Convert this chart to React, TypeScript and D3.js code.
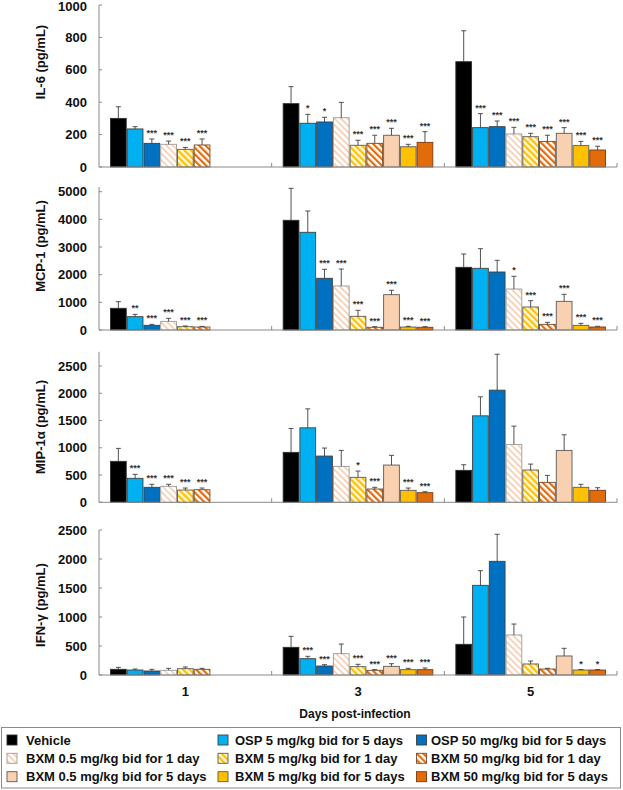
import React from "react";
import * as d3 from "d3";

// ---------- DATA ----------
const days = ["1", "3", "5"];
const seriesNames = [
  "Vehicle",
  "OSP 5 mg/kg bid for 5 days",
  "OSP 50 mg/kg bid for 5 days",
  "BXM 0.5 mg/kg bid for 1 day",
  "BXM 5 mg/kg bid for 1 day",
  "BXM 50 mg/kg bid for 1 day",
  "BXM 0.5 mg/kg bid for 5 days",
  "BXM 5 mg/kg bid for 5 days",
  "BXM 50 mg/kg bid for 5 days",
];

// values per day (rows: day 1, 3, 5), columns: series; null = not measured
const il6Mean = [
  [300, 235, 146, 140, 109, 136, null, null, null],
  [391, 270, 278, 304, 134, 146, 196, 125, 152],
  [650, 243, 249, 204, 187, 158, 208, 132, 105],
];
const il6Err = [
  [72, 14, 27, 20, 12, 37, null, null, null],
  [105, 55, 29, 95, 31, 50, 43, 15, 66],
  [191, 86, 35, 41, 21, 38, 35, 26, 23],
];
const il6Sig = [
  ["", "", "***", "***", "***", "***", "", "", ""],
  ["", "*", "*", "", "***", "***", "***", "***", "***"],
  ["", "***", "***", "***", "***", "***", "***", "***", "***"],
];

const mcp1Mean = [
  [784, 482, 169, 313, 120, 108, null, null, null],
  [3966, 3532, 1869, 1591, 495, 98, 1277, 108, 98],
  [2266, 2230, 2097, 1482, 832, 205, 1036, 169, 108],
];
const mcp1Err = [
  [240, 84, 36, 109, 25, 22, null, null, null],
  [1156, 770, 325, 614, 217, 22, 158, 25, 22],
  [482, 710, 422, 458, 228, 72, 254, 72, 25],
];
const mcp1Sig = [
  ["", "**", "***", "***", "***", "***", "", "", ""],
  ["", "", "***", "***", "***", "***", "***", "***", "***"],
  ["", "", "", "*", "***", "***", "***", "***", "***"],
];

const mip1aMean = [
  [751, 440, 275, 293, 225, 231, null, null, null],
  [916, 1366, 848, 659, 458, 244, 683, 220, 176],
  [586, 1586, 2057, 1062, 592, 366, 952, 275, 220],
];
const mip1aErr = [
  [238, 73, 55, 37, 37, 31, null, null, null],
  [439, 348, 147, 293, 115, 31, 178, 42, 18],
  [103, 348, 659, 335, 109, 128, 286, 55, 48],
];
const mip1aSig = [
  ["", "***", "***", "***", "***", "***", "", "", ""],
  ["", "", "", "", "*", "***", "", "***", "***"],
  ["", "", "", "", "", "", "", "", ""],
];

const ifngMean = [
  [98, 86, 69, 81, 109, 98, null, null, null],
  [477, 281, 155, 368, 144, 81, 149, 92, 92],
  [529, 1546, 1960, 690, 190, 103, 328, 86, 86],
];
const ifngErr = [
  [34, 17, 29, 34, 29, 17, null, null, null],
  [190, 41, 23, 166, 40, 11, 46, 23, 29],
  [471, 253, 466, 189, 51, 12, 132, 8, 8],
];
const ifngSig = [
  ["", "", "", "", "", "", "", "", ""],
  ["", "***", "***", "", "***", "***", "***", "***", "***"],
  ["", "", "", "", "", "", "", "*", "*"],
];

const il6Ticks = [0, 200, 400, 600, 800, 1000];
const mcp1Ticks = [0, 1000, 2000, 3000, 4000, 5000];
const mip1aTicks = [0, 500, 1000, 1500, 2000, 2500];
const ifngTicks = [0, 500, 1000, 1500, 2000, 2500];

// ---------- STYLE / LAYOUT ----------
const FONT = "'Liberation Sans', Arial, Helvetica, sans-serif";
const fills = [
  "#000000",
  "#00B0F0",
  "#0070C0",
  "url(#hatchCream)",
  "url(#hatchYellow)",
  "url(#hatchOrange)",
  "#F9D0B0",
  "#FFC000",
  "#E36C0A",
];
const strokes = [
  "#303030",
  "#404040",
  "#404040",
  "#9a9a9a",
  "#5a5a5a",
  "#7a4a2a",
  "#5a5a5a",
  "#5a5a5a",
  "#7a3a10",
];

const X0 = 99;
const X1 = 617;

const panels = [
  { title: "IL-6 (pg/mL)", mean: il6Mean, err: il6Err, sig: il6Sig, ticks: il6Ticks, yBottom: 167, yTopTick: 5, axisTopVal: 1000, titleY: 62 },
  { title: "MCP-1 (pg/mL)", mean: mcp1Mean, err: mcp1Err, sig: mcp1Sig, ticks: mcp1Ticks, yBottom: 330, yTopTick: 191.7, axisTopVal: 5170, titleY: 246 },
  { title: "MIP-1\u03B1 (pg/mL)", mean: mip1aMean, err: mip1aErr, sig: mip1aSig, ticks: mip1aTicks, yBottom: 502.3, yTopTick: 366, axisTopVal: 2760, titleY: 427 },
  { title: "IFN-\u03B3 (pg/mL)", mean: ifngMean, err: ifngErr, sig: ifngSig, ticks: ifngTicks, yBottom: 675, yTopTick: 530, axisTopVal: 2500, titleY: 605 },
];

const xDay = d3.scaleBand<string>().domain(days).range([X0, X1]).padding(0);
const xSeries = d3
  .scaleBand<string>()
  .domain(seriesNames)
  .range([11.5, xDay.bandwidth() - 11.5])
  .paddingInner(0.06)
  .paddingOuter(0);

function Panel({ p }: { p: any }) {
  const maxTick = p.ticks[p.ticks.length - 1];
  const y = d3.scaleLinear().domain([0, maxTick]).range([p.yBottom, p.yTopTick]);
  const bw = xSeries.bandwidth();
  const axisColor = "#8a8a8a";
  return (
    <g>
      {/* y axis */}
      <line x1={X0} x2={X0} y1={y(p.axisTopVal)} y2={y(0)} stroke={axisColor} strokeWidth={1} />
      {p.ticks.map((t: number) => (
        <g key={t}>
          <line x1={X0} x2={X0 + 3} y1={y(t)} y2={y(t)} stroke={axisColor} strokeWidth={1} />
          <text x={87} y={Math.max(y(t), 6)} dy="0.35em" textAnchor="end" fontFamily={FONT} fontWeight="bold" fontSize={13} fill="#111">
            {t}
          </text>
        </g>
      ))}
      {/* bars */}
      {days.map((d, di) =>
        seriesNames.map((s, si) => {
          const v = p.mean[di][si];
          if (v == null) return null;
          const e = p.err[di][si];
          const x = (xDay(d) as number) + (xSeries(s) as number);
          const cx = x + bw / 2;
          const top = y(v);
          const etop = y(v + e);
          const sig = p.sig[di][si];
          return (
            <g key={d + s}>
              <rect x={x} y={top} width={bw} height={y(0) - top} fill={fills[si]} stroke={strokes[si]} strokeWidth={0.9} />
              <line x1={cx} x2={cx} y1={top} y2={etop} stroke="#404040" strokeWidth={0.9} />
              <line x1={cx - 2.5} x2={cx + 2.5} y1={etop} y2={etop} stroke="#404040" strokeWidth={0.9} />
              {sig && (
                <text x={cx} y={etop - 3} textAnchor="middle" fontFamily={FONT} fontWeight="bold" fontSize={9} fill="#333">
                  {sig}
                </text>
              )}
            </g>
          );
        })
      )}
      {/* x axis */}
      <line x1={X0} x2={X1} y1={y(0)} y2={y(0)} stroke={axisColor} strokeWidth={1} />
      {days.map((d) => {
        const xe = (xDay(d) as number) + xDay.bandwidth();
        return <line key={d} x1={xe} x2={xe} y1={y(0)} y2={y(0) - 4} stroke={axisColor} strokeWidth={1} />;
      })}
      {/* title */}
      <text
        transform={`translate(40,${p.titleY}) rotate(-90)`}
        textAnchor="middle"
        dy="0.35em"
        fontFamily={FONT}
        fontWeight="bold"
        fontSize={13}
        fill="#111"
      >
        {p.title}
      </text>
    </g>
  );
}

export default function App() {
  const legendCols = [7, 218, 416.5];
  const legendTextX = [26, 235, 431];
  const legendRows = [740, 758.3, 776.7];
  return (
    <svg width={623} height={790} style={{ position: "absolute", left: 0, top: 0, background: "#fff" }}>
      <defs>
        <pattern id="hatchCream" patternUnits="userSpaceOnUse" width={4.6} height={4.6} patternTransform="rotate(-45)">
          <rect width={4.6} height={4.6} fill="#ffffff" />
          <rect width={1.8} height={4.6} fill="#F8D2B6" />
        </pattern>
        <pattern id="hatchYellow" patternUnits="userSpaceOnUse" width={4.6} height={4.6} patternTransform="rotate(-45)">
          <rect width={4.6} height={4.6} fill="#FFF8DC" />
          <rect width={2.2} height={4.6} fill="#FFC000" />
        </pattern>
        <pattern id="hatchOrange" patternUnits="userSpaceOnUse" width={4.6} height={4.6} patternTransform="rotate(-45)">
          <rect width={4.6} height={4.6} fill="#ffffff" />
          <rect width={2.2} height={4.6} fill="#E36C0A" />
        </pattern>
      </defs>
      <rect width={623} height={790} fill="#fff" />
      {panels.map((p, i) => (
        <Panel key={i} p={p} />
      ))}
      {days.map((d) => (
        <text
          key={d}
          x={(xDay(d) as number) + xDay.bandwidth() / 2}
          y={691}
          dy="0.35em"
          textAnchor="middle"
          fontFamily={FONT}
          fontWeight="bold"
          fontSize={13}
          fill="#111"
        >
          {d}
        </text>
      ))}
      <text x={355} y={714} dy="0.35em" textAnchor="middle" fontFamily={FONT} fontWeight="bold" fontSize={12} fill="#111">
        Days post-infection
      </text>
      {/* legend */}
      <rect x={1.5} y={727.5} width={619} height={60.5} fill="#fff" stroke="#8a8a8a" strokeWidth={1} />
      {seriesNames.map((s, i) => {
        const c = i % 3;
        const r = Math.floor(i / 3);
        const cy = legendRows[r];
        return (
          <g key={s}>
            <rect x={legendCols[c]} y={cy - 5} width={10} height={10} fill={fills[i]} stroke={strokes[i]} strokeWidth={0.9} />
            <text x={legendTextX[c]} y={cy} dy="0.35em" fontFamily={FONT} fontWeight="bold" fontSize={13} fill="#111">
              {s}
            </text>
          </g>
        );
      })}
    </svg>
  );
}
